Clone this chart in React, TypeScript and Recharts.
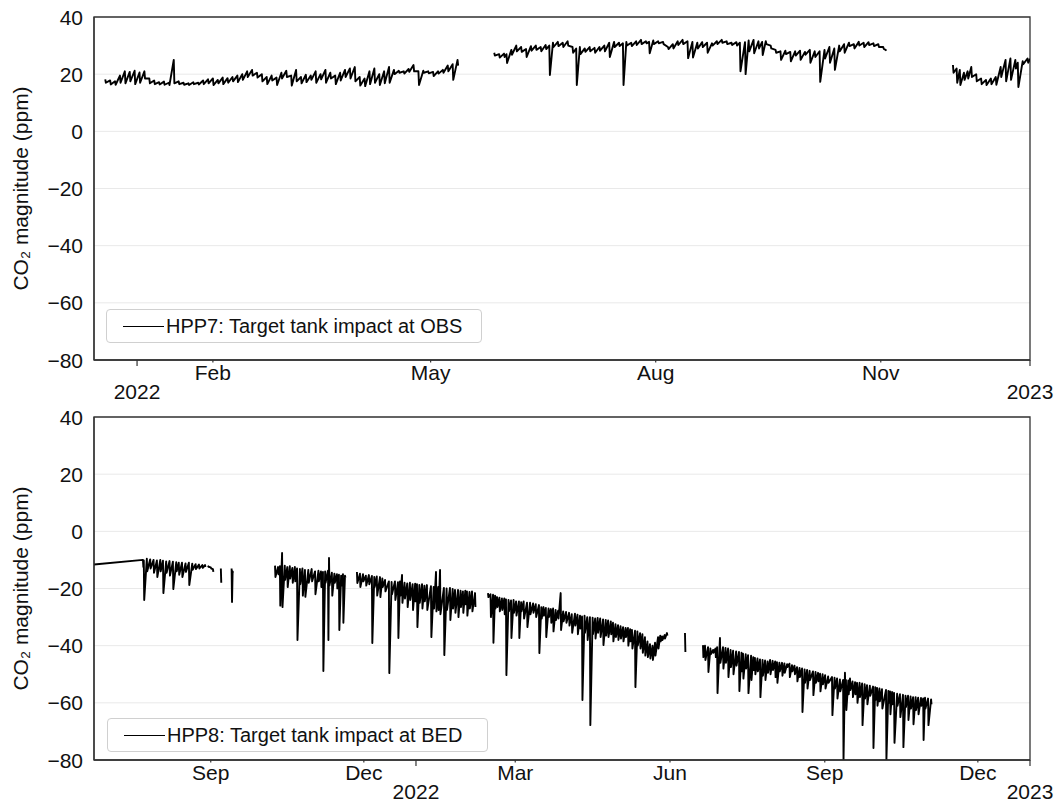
import React from 'react';
import { CartesianGrid, Line, LineChart, ReferenceArea, XAxis, YAxis } from 'recharts';

// Rows are [day, upper, lower]: day counted from 1 Jan 2022, CO2 in ppm.
// Each row draws a short stroke between the upper and lower reading of that day.

// HPP7 at OBS
const hpp7Winter = [
  [-13, 18.2, 17.0], [-11, 17.8, 16.4], [-9, 17.5, 16.3], [-7, 19.5, 17.0], [-5, 21.0, 16.8],
  [-3, 20.8, 17.5], [-1, 21.2, 16.5], [1, 20.6, 17.0], [3, 21.0, 18.5], [5, 18.5, 16.8],
  [7, 17.8, 16.5], [9, 17.2, 16.4], [11, 17.4, 16.3], [13, 17.0, 16.2], [15, 25.0, 16.8],
  [17, 17.5, 16.5], [19, 17.0, 16.3], [21, 16.8, 16.2], [23, 17.2, 16.5], [25, 17.0, 16.4],
  [27, 17.8, 16.5], [29, 18.2, 16.8], [31, 18.5, 16.2], [33, 18.0, 16.8], [35, 18.8, 16.5],
  [37, 18.6, 17.0], [39, 19.0, 17.5], [41, 19.5, 17.2], [43, 20.0, 18.0], [45, 21.0, 19.0],
  [47, 21.5, 19.5], [49, 20.5, 18.8], [51, 20.0, 17.5], [53, 19.0, 16.5], [55, 19.5, 17.8],
  [57, 18.8, 16.2], [59, 20.5, 18.5], [61, 21.2, 19.0], [63, 19.5, 16.0], [65, 21.5, 17.5],
  [67, 19.0, 16.8], [69, 19.8, 17.2], [71, 19.5, 18.0], [73, 21.0, 17.0], [75, 20.0, 18.2],
  [77, 21.5, 17.0], [79, 20.5, 18.5], [81, 19.5, 16.5], [83, 20.5, 17.8], [85, 21.5, 19.0],
  [87, 22.0, 18.5], [89, 22.5, 17.5], [91, 19.0, 16.0], [93, 18.5, 15.8], [95, 21.0, 16.5],
  [97, 22.0, 17.0], [99, 20.0, 16.2], [101, 21.0, 16.8], [103, 22.5, 17.0], [105, 21.5, 20.0],
  [107, 21.2, 20.5], [109, 21.0, 20.2], [111, 21.8, 20.8], [113, 23.2, 21.0], [115, 21.0, 16.2],
  [117, 21.2, 20.5], [119, 21.0, 20.3], [121, 20.8, 19.3], [123, 21.0, 20.2], [125, 21.5, 20.5],
  [127, 23.0, 21.0], [129, 23.5, 18.0], [131, 25.0, 23.0],
];

const hpp7Summer = [
  [146, 27.5, 26.5], [148, 27.0, 25.8], [150, 27.2, 26.0], [151, 27.0, 23.9], [153, 28.5, 26.8],
  [155, 30.0, 28.0], [157, 29.5, 27.8], [159, 28.8, 26.0], [161, 29.8, 28.2], [163, 30.0, 28.5],
  [165, 29.5, 28.0], [167, 30.2, 28.8], [168.5, 30.0, 19.7], [170, 31.0, 29.5], [172, 31.3, 29.8],
  [174, 31.0, 29.5], [176, 31.5, 30.0], [178, 29.5, 27.5], [179.5, 29.0, 16.2], [181, 29.5, 27.0],
  [183, 29.0, 27.8], [185, 29.5, 28.0], [187, 29.2, 27.5], [189, 29.5, 28.2], [191, 30.0, 28.0],
  [193, 31.0, 26.0], [195, 31.3, 29.5], [197, 31.0, 29.8], [198.6, 30.8, 16.2], [200, 31.3, 30.0],
  [202, 31.0, 29.8], [204, 31.5, 30.2], [206, 32.0, 30.5], [208, 31.5, 30.8], [209.3, 31.3, 27.3],
  [211, 31.8, 30.5], [213, 31.5, 30.8], [215, 31.3, 30.5], [217, 29.5, 28.8], [219, 30.5, 29.0],
  [221, 31.5, 30.2], [223, 32.0, 30.5], [225, 31.5, 25.6], [227, 31.3, 25.8], [229, 31.0, 29.0],
  [231, 31.2, 29.5], [233, 31.0, 27.5], [235, 30.8, 30.0], [237, 31.5, 30.5], [239, 32.0, 31.0],
  [241, 31.5, 30.5], [243, 31.0, 30.2], [245, 31.2, 30.0], [246.4, 31.0, 21.0], [248.5, 31.2, 20.0],
  [250, 31.8, 28.0], [252, 32.0, 27.3], [254, 31.5, 29.0], [255.5, 31.3, 26.7], [257, 31.5, 30.5],
  [259, 30.0, 29.0], [261, 28.5, 27.5], [263, 28.0, 25.0], [265, 28.2, 27.0], [267, 27.8, 24.5],
  [269, 28.0, 26.5], [271, 28.2, 25.0], [273, 27.8, 26.8], [275, 28.5, 24.0], [277, 28.0, 26.0],
  [279, 28.0, 17.3], [281, 28.5, 25.5], [283, 29.5, 24.0], [285, 29.0, 21.5], [287, 30.0, 28.0],
  [289, 30.5, 27.5], [291, 31.0, 29.8], [293, 30.5, 29.0], [295, 31.3, 30.0], [297, 31.0, 29.5],
  [299, 31.2, 30.2], [301, 30.8, 29.8], [303, 30.5, 29.5], [305, 29.5, 28.8], [306, 28.5, 28.2],
];

const hpp7December = [
  [333.5, 23.2, 20.5], [335, 22.0, 17.0], [336.3, 21.5, 16.2], [338, 20.5, 18.0], [339.5, 21.0, 18.5],
  [341, 22.5, 19.0], [343, 20.0, 17.5], [345, 18.5, 16.5], [347, 18.0, 16.2], [349, 18.5, 16.5],
  [351, 19.0, 16.3], [353, 22.5, 19.0], [355, 25.0, 17.5], [357, 25.5, 18.0], [359, 25.0, 22.0],
  [360, 24.0, 15.5], [362, 24.5, 23.5], [364, 25.5, 24.0], [365, 25.2, 24.8],
];

// HPP8 at BED
const hpp8Summer21 = [
  [-191.4, -11.6, -11.6], [-162.3, -10.0, -12.5], [-161.8, -10.2, -24.0], [-160, -9.6, -14.0],
  [-158, -9.8, -13.0], [-156, -10.0, -14.5], [-154, -10.2, -16.0], [-152, -10.0, -14.0],
  [-150.4, -10.3, -21.6], [-148.5, -10.5, -14.5], [-146.5, -10.4, -15.5], [-144.5, -10.6, -20.2],
  [-142.5, -10.8, -14.0], [-141, -11.0, -15.2], [-139.1, -11.0, -16.0], [-137, -11.2, -14.2],
  [-135, -11.0, -18.8], [-133, -11.3, -13.5], [-131, -11.5, -13.2], [-129, -11.6, -13.0],
  [-127, -11.8, -12.8], [-125.4, -11.8, -12.5],
];
const hpp8Sep21a = [[-123.6, -12.0, -12.4], [-122, -12.6, -13.0], [-120.7, -13.2, -14.2]];
const hpp8Sep21b = [[-116, -13.0, -18.0]];
const hpp8Sep21c = [[-109.6, -13.0, -24.7], [-109.0, -14.0, -14.5]];

const hpp8Autumn21 = [
  [-83.8, -12.0, -16.0], [-82, -12.5, -15.0], [-80.9, -12.2, -26.0], [-79.6, -7.6, -26.5],
  [-78, -12.0, -17.0], [-76.5, -12.5, -19.5], [-75, -12.2, -16.5], [-73.5, -12.8, -18.0],
  [-72, -12.5, -17.5], [-70.7, -13.0, -38.0], [-69, -13.2, -18.5], [-67.5, -13.0, -22.5],
  [-66, -13.5, -22.9], [-64, -13.5, -18.0], [-62, -13.2, -17.5], [-60, -14.0, -22.0],
  [-58, -13.8, -17.5], [-56.5, -14.0, -19.5], [-55.3, -14.2, -48.9], [-54, -14.0, -18.0],
  [-52.3, -13.8, -38.0], [-51.7, -9.3, -19.0], [-50, -14.5, -22.5], [-48.5, -14.8, -18.0],
  [-47, -15.0, -20.0], [-45.8, -15.2, -34.5], [-44.5, -15.5, -19.0], [-43.4, -15.0, -32.0],
  [-42.2, -15.5, -16.2],
];

const hpp8Winter = [
  [-35.1, -14.2, -18.1], [-33.3, -14.8, -19.5], [-31.5, -15.0, -17.5], [-29.8, -15.5, -19.0],
  [-28, -15.3, -18.5], [-26.2, -15.6, -39.1], [-24.8, -16.0, -19.5], [-23.3, -15.8, -22.5],
  [-21.4, -16.0, -23.0], [-20, -16.5, -19.5], [-18.4, -17.0, -21.0], [-16.1, -17.5, -49.6],
  [-14.5, -17.7, -22.0], [-12.5, -17.5, -24.0], [-10.7, -17.8, -37.3], [-9.5, -17.5, -22.5],
  [-8.3, -15.3, -25.0], [-6.8, -18.0, -23.5], [-5.2, -18.2, -26.5], [-3.6, -18.0, -24.0],
  [-2, -18.5, -27.5], [-0.5, -18.3, -24.5], [0.6, -18.5, -33.5], [2, -18.8, -25.0],
  [3.6, -18.5, -27.0], [5, -19.0, -24.5], [6.5, -18.8, -27.5], [8.9, -19.2, -37.0],
  [10.5, -19.5, -27.0], [11.9, -14.2, -28.0], [13.2, -19.5, -27.5], [14.3, -13.5, -29.0],
  [16.6, -19.8, -43.3], [18.2, -20.0, -27.5], [20.2, -19.8, -31.0], [21.8, -20.2, -27.0],
  [23.2, -20.5, -28.5], [25, -20.5, -30.0], [26.5, -20.8, -26.5], [27.9, -21.0, -28.5],
  [29.3, -20.8, -25.5], [30.3, -21.0, -29.5], [31.8, -21.2, -27.0], [33.3, -21.0, -28.0],
  [35.1, -21.6, -26.5],
];

const hpp8Spring = [
  [42.8, -21.6, -23.0], [44.3, -22.0, -30.0], [45.8, -22.2, -39.0], [47, -22.5, -27.0],
  [48.2, -23.0, -26.5], [49.6, -23.2, -28.0], [51.1, -23.5, -27.5], [52.5, -23.5, -29.0],
  [53.5, -23.8, -50.3], [55, -24.0, -28.0], [56.5, -24.2, -37.3], [58, -24.0, -28.5],
  [59.5, -24.5, -29.5], [61.2, -24.5, -37.3], [62.5, -24.8, -28.0], [64, -24.5, -30.5],
  [66, -25.0, -33.5], [67.8, -25.0, -29.0], [69.6, -25.2, -28.5], [71.2, -25.5, -30.0],
  [73.1, -25.8, -42.6], [74.5, -26.5, -30.5], [75.8, -26.5, -29.5], [77.2, -26.8, -37.0],
  [78.8, -27.0, -30.0], [80.2, -27.2, -32.0], [81.5, -27.0, -35.0], [83, -27.5, -31.0],
  [84.5, -27.8, -30.5], [86, -21.6, -34.5], [87.5, -28.0, -31.5], [89.2, -28.2, -32.0],
  [91, -28.5, -33.0], [92.6, -29.0, -35.5], [94.5, -28.8, -33.0], [96, -29.2, -36.0],
  [97.5, -29.5, -34.0], [98.7, -29.8, -59.0], [100.2, -29.5, -35.5], [101.8, -30.0, -38.0],
  [103.4, -30.0, -67.8], [105, -30.2, -36.0], [106.5, -30.5, -37.5], [108, -30.3, -35.5],
  [109.5, -30.5, -37.0], [111.2, -30.8, -39.8], [112.8, -31.0, -36.5], [114.2, -31.2, -37.0],
  [115.8, -31.5, -36.0], [117.1, -32.0, -38.5], [118.6, -32.5, -37.0], [120.1, -32.8, -38.0],
  [121.6, -33.2, -37.5], [123.1, -33.5, -38.5], [124.6, -33.8, -37.0], [126, -33.8, -40.0],
  [127.3, -34.2, -38.5], [128.4, -34.5, -41.0], [130.2, -34.8, -54.5], [131.6, -35.0, -40.0],
  [133.2, -35.6, -41.0], [134.6, -36.0, -42.5], [136.1, -37.0, -43.5], [137.6, -38.5, -44.0],
  [139.1, -39.5, -44.5], [140.6, -40.0, -45.0], [142.1, -39.0, -43.5], [143.9, -37.0, -41.0],
  [145.2, -36.5, -38.5], [146.3, -36.8, -38.0], [147.8, -36.3, -37.5], [149.2, -35.6, -36.5],
];
const hpp8June = [[159.9, -35.6, -42.2]];

const hpp8Summer22 = [
  [170.6, -39.8, -44.0], [171.8, -40.0, -45.0], [173.6, -40.5, -49.2], [175, -41.0, -43.0],
  [176.6, -41.5, -42.5], [178, -41.0, -44.0], [179, -40.5, -56.6], [180.7, -37.3, -46.0],
  [182.5, -40.5, -48.0], [184, -40.8, -46.0], [185.5, -41.0, -51.0], [187, -41.5, -47.5],
  [188.5, -41.8, -50.0], [190.3, -42.0, -47.0], [192, -42.2, -55.9], [193.5, -42.5, -49.0],
  [194.4, -42.8, -51.5], [196, -43.0, -48.0], [197.4, -43.3, -56.6], [199.2, -43.5, -52.0],
  [200.5, -44.0, -48.5], [201.5, -44.3, -50.0], [203, -44.5, -49.0], [204.5, -44.8, -58.0],
  [206, -45.0, -50.5], [207.5, -45.2, -52.0], [209, -45.5, -49.5], [210.5, -45.0, -50.0],
  [212, -45.3, -48.5], [213.5, -45.5, -51.0], [214.6, -45.8, -53.0], [216, -46.0, -49.0],
  [217.6, -46.0, -50.5], [219, -46.2, -49.5], [220.6, -46.5, -47.5], [222, -46.3, -51.0],
  [223.5, -46.8, -49.0], [225, -47.0, -50.0], [226.5, -47.5, -52.5], [228, -47.8, -51.0],
  [229.5, -48.0, -63.2], [231, -48.3, -53.0], [232.5, -48.5, -55.0], [234, -48.8, -52.0],
  [236, -49.0, -57.3], [237.5, -49.2, -53.0], [239, -49.5, -52.5], [240.2, -49.8, -56.0],
  [241.7, -50.0, -53.5], [243.2, -50.3, -55.0], [245, -50.8, -53.0], [247.3, -51.0, -64.3],
  [248.8, -51.2, -55.0], [250.3, -51.5, -58.5], [252, -51.8, -56.0], [253.9, -52.0, -80.0],
  [255, -49.5, -56.0], [255.6, -52.0, -62.5], [257, -52.2, -57.0], [258, -51.5, -55.5],
  [259.5, -52.5, -58.0], [261, -52.8, -57.0], [262.2, -53.0, -60.0], [263.7, -53.0, -58.0],
  [265.2, -53.2, -67.8], [266.7, -53.5, -58.5], [268.1, -53.8, -60.5], [269.8, -54.0, -57.5],
  [271.7, -54.3, -75.8], [273, -54.5, -59.0], [274.1, -54.8, -61.0], [275.5, -55.0, -59.5],
  [277, -55.2, -62.0], [279.4, -55.5, -80.0], [280.8, -55.8, -60.0], [281.8, -56.0, -64.0],
  [283, -56.2, -60.5], [284.2, -56.5, -74.0], [286, -56.8, -61.0], [287.7, -57.0, -65.0],
  [289.5, -57.2, -75.5], [291, -57.5, -61.5], [292.5, -57.5, -66.0], [294, -57.8, -62.0],
  [295.5, -58.0, -67.5], [297, -58.0, -62.5], [298.5, -58.2, -64.0], [300.2, -58.3, -61.0],
  [301.5, -58.5, -73.0], [302.6, -58.2, -62.0], [304.4, -58.5, -67.8], [306.2, -58.8, -60.5],
];

// axis ticks (days from 1 Jan 2022) and their labels
const hpp7Ticks = [0, 31, 120, 212, 304, 365];
const hpp7TickLabels = ['2022', 'Feb', 'May', 'Aug', 'Nov', '2023'];
const hpp8Ticks = [-122, -31, 0, 59, 151, 243, 334, 365];
const hpp8TickLabels = ['Sep', 'Dec', '2022', 'Mar', 'Jun', 'Sep', 'Dec', '2023'];
const ppmTicks = [-80, -60, -40, -20, 0, 20, 40];

const FONT = "'Liberation Sans', Arial, Helvetica, sans-serif";
const SPINE = '#333333';
const TICK_FONT = 21;

type Row = number[];

// flatten segments into one line, with a null between segments so the line breaks
function toSeries(segments: Row[][]) {
  const out: { t: number; v: number | null }[] = [];
  segments.forEach((seg) => {
    seg.forEach(([t, hi, lo]) => {
      out.push({ t, v: hi });
      if (lo !== hi) out.push({ t: t + 0.25, v: lo });
    });
    out.push({ t: seg[seg.length - 1][0] + 0.5, v: null });
  });
  return out;
}

const hpp7Data = toSeries([hpp7Winter, hpp7Summer, hpp7December]);
const hpp8Data = toSeries([
  hpp8Summer21, hpp8Sep21a, hpp8Sep21b, hpp8Sep21c, hpp8Autumn21,
  hpp8Winter, hpp8Spring, hpp8June, hpp8Summer22,
]);

const DateTick = ({ x, y, payload, ticks, labels }: any) => {
  const label = labels[ticks.indexOf(payload.value)];
  const isYear = /^\d{4}$/.test(label);
  return (
    <g>
      <line x1={x} x2={x} y1={y} y2={y + (isYear ? 6 : 2.5)} stroke={SPINE} strokeWidth={1.2} />
      <text x={x} y={y + (isYear ? 39 : 20)} textAnchor="middle" fontSize={TICK_FONT} fill="#111">
        {label}
      </text>
    </g>
  );
};

const PpmTick = ({ x, y, payload }: any) => (
  <text x={x} y={y} dy="0.36em" textAnchor="end" fontSize={TICK_FONT} fill="#111">
    {String(payload.value).replace('-', '\u2212')}
  </text>
);

const AxisTitle = ({ viewBox }: any) => {
  const cy = viewBox.y + viewBox.height / 2;
  return (
    <text x={20} y={cy} transform={`rotate(-90, 20, ${cy})`} textAnchor="middle"
      dominantBaseline="central" fontSize={TICK_FONT} fill="#111">
      CO₂ magnitude (ppm)
    </text>
  );
};

type PanelProps = {
  top: number;
  height: number;
  marginTop: number;
  axisHeight: number;
  data: { t: number; v: number | null }[];
  domain: [number, number];
  ticks: number[];
  labels: string[];
  legend: string;
  legendBox: { left: number; top: number; width: number };
};

function Panel({ top, height, marginTop, axisHeight, data, domain, ticks, labels, legend, legendBox }: PanelProps) {
  return (
    <div style={{ position: 'absolute', left: 0, top, width: 1060, height }}>
      <LineChart width={1060} height={height} data={data}
        margin={{ top: marginTop, right: 30, bottom: 0, left: 34 }}>
        <CartesianGrid vertical={false} stroke="#e9e9e9" strokeWidth={1} />
        <XAxis type="number" dataKey="t" domain={domain} ticks={ticks} interval={0}
          allowDataOverflow height={axisHeight} tickSize={0} tickMargin={0}
          axisLine={{ stroke: SPINE, strokeWidth: 1.3 }} tickLine={false}
          tick={(p: any) => <DateTick {...p} ticks={ticks} labels={labels} />} />
        <YAxis type="number" domain={[-80, 40]} ticks={ppmTicks} interval={0} width={60}
          allowDataOverflow tickSize={0} tickMargin={11}
          axisLine={{ stroke: SPINE, strokeWidth: 1.3 }} tickLine={false}
          tick={(p: any) => <PpmTick {...p} />} label={<AxisTitle />} />
        <Line type="linear" dataKey="v" stroke="#000" strokeWidth={1.9} strokeLinejoin="round"
          dot={false} activeDot={false} isAnimationActive={false} connectNulls={false} />
        <ReferenceArea x1={domain[0]} x2={domain[1]} y1={-80} y2={40} fill="none"
          stroke={SPINE} strokeWidth={1.3} ifOverflow="visible" />
      </LineChart>
      <div style={{
        position: 'absolute', left: legendBox.left, top: legendBox.top, width: legendBox.width,
        height: 34, boxSizing: 'border-box', border: '1px solid #d0d0d0', borderRadius: 4,
        background: 'rgba(255,255,255,0.85)', display: 'flex', alignItems: 'center',
        paddingLeft: 16, fontSize: 20, color: '#111', whiteSpace: 'nowrap',
      }}>
        <span style={{ display: 'inline-block', width: 41, height: 0, borderTop: '1.5px solid #000', marginRight: 2 }} />
        <span>{legend}</span>
      </div>
    </div>
  );
}

export default function App() {
  return (
    <div style={{ position: 'absolute', left: 0, top: 0, width: 1060, height: 803, background: '#fff', fontFamily: FONT }}>
      <Panel top={0} height={408} marginTop={17} axisHeight={48} data={hpp7Data} domain={[-17.6, 365]}
        ticks={hpp7Ticks} labels={hpp7TickLabels} legend="HPP7: Target tank impact at OBS"
        legendBox={{ left: 106, top: 309, width: 376 }} />
      <Panel top={403} height={400} marginTop={14} axisHeight={43} data={hpp8Data} domain={[-191.4, 365]}
        ticks={hpp8Ticks} labels={hpp8TickLabels} legend="HPP8: Target tank impact at BED"
        legendBox={{ left: 107, top: 315, width: 381 }} />
    </div>
  );
}
